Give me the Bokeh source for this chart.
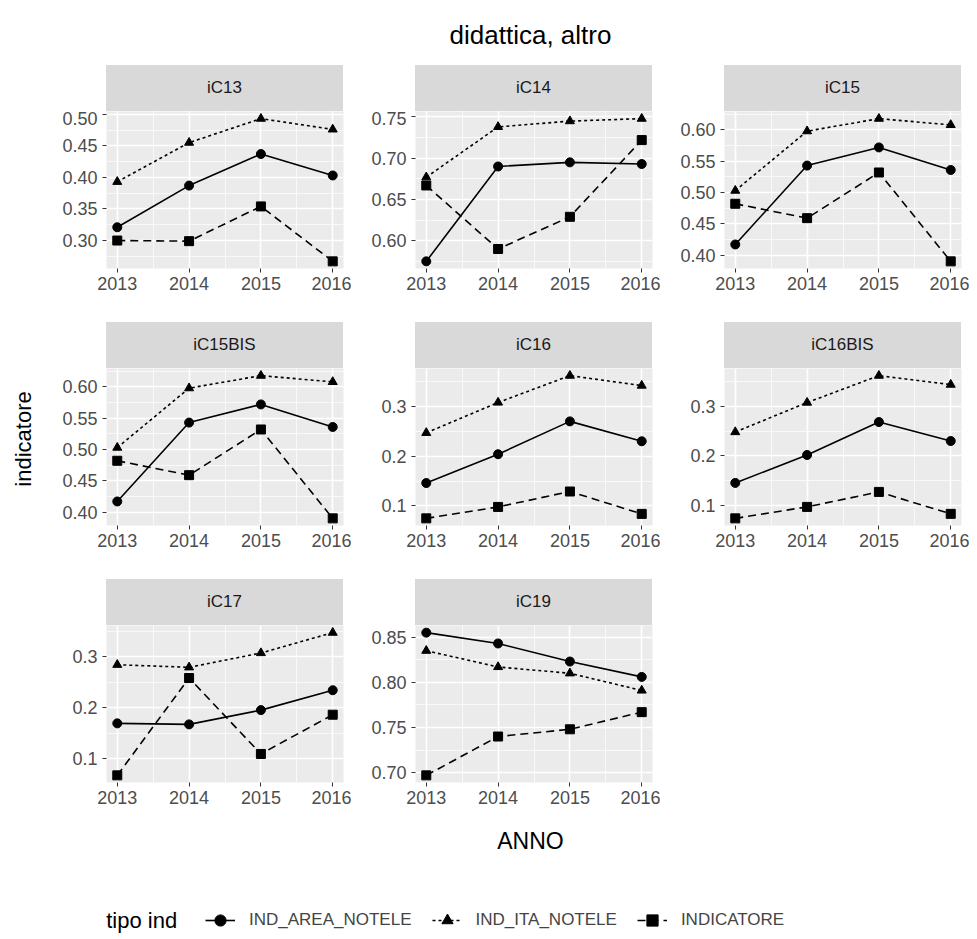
from bokeh.embed import file_html
from bokeh.resources import INLINE
from bokeh.plotting import figure
from bokeh.layouts import column, row, Spacer
from bokeh.models import FixedTicker, Div, Legend, LegendItem, Range1d, PrintfTickFormatter
from bokeh.core.properties import value

years = [2013, 2014, 2015, 2016]
panels = ["iC13", "iC14", "iC15", "iC15BIS", "iC16", "iC16BIS", "iC17", "iC19"]

area = {
    "iC13": [0.321, 0.387, 0.437, 0.403],
    "iC14": [0.575, 0.690, 0.695, 0.693],
    "iC15": [0.417, 0.543, 0.572, 0.536],
    "iC15BIS": [0.417, 0.543, 0.572, 0.536],
    "iC16": [0.146, 0.204, 0.270, 0.230],
    "iC16BIS": [0.146, 0.202, 0.268, 0.230],
    "iC17": [0.169, 0.167, 0.195, 0.234],
    "iC19": [0.855, 0.843, 0.823, 0.806],
}
ita = {
    "iC13": [0.393, 0.455, 0.493, 0.476],
    "iC14": [0.677, 0.738, 0.745, 0.748],
    "iC15": [0.503, 0.598, 0.618, 0.608],
    "iC15BIS": [0.503, 0.598, 0.618, 0.608],
    "iC16": [0.247, 0.308, 0.362, 0.342],
    "iC16BIS": [0.248, 0.307, 0.361, 0.343],
    "iC17": [0.284, 0.279, 0.307, 0.347],
    "iC19": [0.835, 0.817, 0.810, 0.791],
}
indic = {
    "iC13": [0.300, 0.299, 0.354, 0.267],
    "iC14": [0.667, 0.590, 0.629, 0.722],
    "iC15": [0.482, 0.459, 0.532, 0.390],
    "iC15BIS": [0.482, 0.459, 0.532, 0.390],
    "iC16": [0.075, 0.098, 0.129, 0.084],
    "iC16BIS": [0.075, 0.098, 0.128, 0.084],
    "iC17": [0.067, 0.258, 0.109, 0.186],
    "iC19": [0.697, 0.740, 0.748, 0.767],
}
yticks = {
    "iC13": [0.30, 0.35, 0.40, 0.45, 0.50],
    "iC14": [0.60, 0.65, 0.70, 0.75],
    "iC15": [0.40, 0.45, 0.50, 0.55, 0.60],
    "iC15BIS": [0.40, 0.45, 0.50, 0.55, 0.60],
    "iC16": [0.1, 0.2, 0.3],
    "iC16BIS": [0.1, 0.2, 0.3],
    "iC17": [0.1, 0.2, 0.3],
    "iC19": [0.70, 0.75, 0.80, 0.85],
}
series = [("IND_AREA_NOTELE", area, "solid", "circle"),
          ("IND_ITA_NOTELE", ita, "3 3", "triangle"),
          ("INDICATORE", indic, "8 5", "square")]

FONT = "Liberation Sans"
PW, LB, RB = 309, 64, 8
FRAME, SH = 157, 46


def panel(name, bottom):
    vals = area[name] + ita[name] + indic[name]
    lo, hi = min(vals), max(vals)
    pad = (hi - lo) * 0.05
    p = figure(width=PW, height=FRAME + bottom, output_backend="svg", toolbar_location=None,
               x_range=Range1d(2012.85, 2016.15), y_range=Range1d(lo - pad, hi + pad),
               min_border_left=LB, min_border_right=RB, min_border_top=0, min_border_bottom=bottom)
    p.background_fill_color = "#EBEBEB"
    p.outline_line_color = None
    for g in (p.xgrid, p.ygrid):
        g.grid_line_color = "white"
        g.grid_line_width = 1.6
        g.minor_grid_line_color = "white"
        g.minor_grid_line_width = 0.7
    st = yticks[name]
    step = st[1] - st[0]
    p.yaxis.ticker = FixedTicker(ticks=st, minor_ticks=[v - step / 2 for v in st] + [st[-1] + step / 2])
    p.xaxis.ticker = FixedTicker(ticks=years, minor_ticks=[2013.5, 2014.5, 2015.5])
    p.yaxis.formatter = PrintfTickFormatter(format="%.1f" if step >= 0.1 else "%.2f")
    for ax in (p.xaxis, p.yaxis):
        ax.axis_line_color = None
        ax.major_tick_line_color = "#333333"
        ax.major_tick_out = 4
        ax.major_tick_in = 0
        ax.minor_tick_line_color = None
        ax.major_label_text_font = FONT
        ax.major_label_text_font_size = "18px"
        ax.major_label_text_color = "#4D4D4D"
    p.xaxis.major_label_standoff = 4
    for label, data, dash, marker in series:
        p.line(years, data[name], line_color="black", line_width=1.6, line_dash=dash)
        p.scatter(years, data[name], marker=marker, size=9, color="black")
    strip = Div(text=name, width=PW - LB - RB, height=SH, margin=(0, RB, 0, LB),
                styles={"background-color": "#D9D9D9", "text-align": "center", "line-height": f"{SH}px",
                        "font-family": FONT, "font-size": "17px", "color": "#1A1A1A",
                        "width": f"{PW - LB - RB}px", "height": f"{SH}px"})
    return column(strip, p, spacing=0)


cells = [panel(n, 54 if i < 6 else 30) for i, n in enumerate(panels)]
grid = column(row(*cells[0:3]), row(*cells[3:6]), row(*cells[6:8]), spacing=0)

ylab = figure(width=42, height=3 * (FRAME + SH) + 2 * 54 + 30, output_backend="svg", toolbar_location=None,
              x_range=Range1d(0, 1), y_range=Range1d(0, 1), min_border=0, outline_line_color=None)
ylab.axis.visible = False
ylab.grid.visible = False
ylab.text(x=[0.55], y=[0.5], text=["indicatore"], angle=1.5708, text_align="center",
          text_baseline="middle", text_font=value(FONT), text_font_size="22px", text_color="black")

title = Div(text="didattica, altro", width=961, height=55,
            styles={"text-align": "center", "font-family": FONT, "font-size": "26px",
                    "color": "black", "width": "961px", "padding-left": "90px", "padding-top": "12px"})
xlab = Div(text="ANNO", width=961, height=44,
           styles={"text-align": "center", "font-family": FONT, "font-size": "23px",
                   "color": "black", "width": "961px", "padding-left": "90px", "padding-top": "8px"})

leg = figure(width=961, height=36, output_backend="svg", toolbar_location=None,
             x_range=Range1d(0, 1), y_range=Range1d(0, 1), min_border=0, outline_line_color=None)
leg.axis.visible = False
leg.grid.visible = False
leg.text(x=[0.11], y=[0.5], text=["tipo  ind"], text_align="left", text_baseline="middle",
         text_font=value(FONT), text_font_size="22px", text_color="black")
items = []
for label, data, dash, marker in series:
    r1 = leg.line([5, 6], [5, 6], line_color="black", line_width=1.6, line_dash=dash)
    r2 = leg.scatter([5], [5], marker=marker, size=8, color="black")
    items.append(LegendItem(label=label, renderers=[r1, r2]))
legend = Legend(items=items, orientation="horizontal", location=(205, 4),
                label_text_font=FONT, label_text_font_size="17px",
                border_line_color=None, background_fill_alpha=0, glyph_width=30, glyph_height=28,
                spacing=20, label_standoff=14, padding=0, margin=0,
                item_background_fill_color="#F2F2F2", item_background_fill_alpha=1)
leg.add_layout(legend)

p = column(title, row(ylab, grid, spacing=0), xlab, Spacer(height=36), leg, spacing=0)
open("out.html", "w").write(file_html(p, INLINE))
